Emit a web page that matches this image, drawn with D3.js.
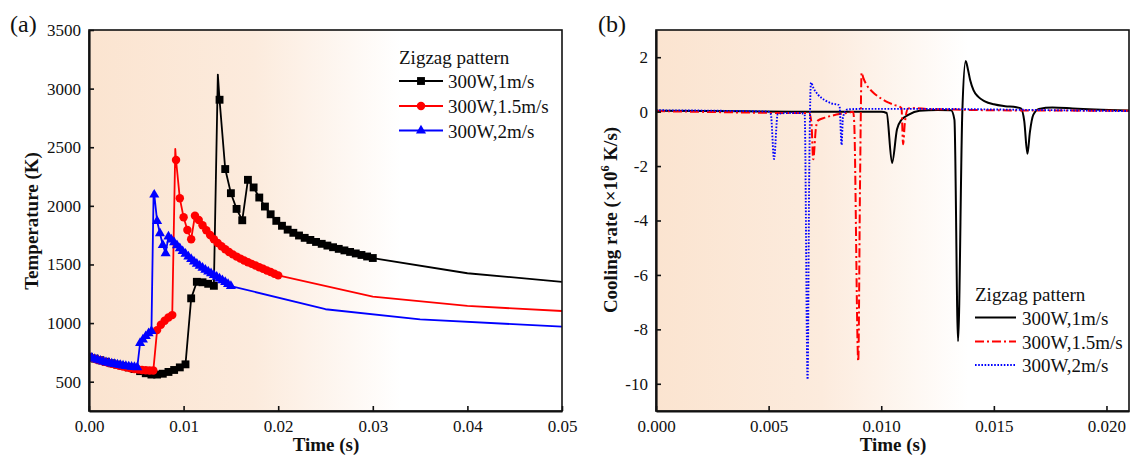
<!DOCTYPE html>
<html>
<head>
<meta charset="utf-8">
<script src="https://cdn.jsdelivr.net/npm/d3@7"></script>
<style>
  html, body { margin: 0; padding: 0; background: #fff; }
  svg { display: block; font-family: "Liberation Serif", "Times New Roman", serif; }
</style>
</head>
<body>
<svg id="chart" width="1132" height="461"></svg>
<script>
// ---------- (a) Temperature history, zigzag pattern ----------
// 300 W, 1 m/s  (sampled every 0.6 ms)
const blackTime = [0, 0.0006, 0.0012, 0.0018, 0.0024, 0.003, 0.0036, 0.0042, 0.0048, 0.0054,
  0.006, 0.0066, 0.0072, 0.0078, 0.0084, 0.009, 0.0096, 0.0102, 0.0108, 0.0114,
  0.012, 0.0126, 0.0132, 0.0138, 0.0144, 0.015, 0.0156, 0.0162, 0.0168, 0.0174,
  0.018, 0.0186, 0.0192, 0.0198, 0.0204, 0.021, 0.0216, 0.0222, 0.0228, 0.0234,
  0.024, 0.0246, 0.0252, 0.0258, 0.0264, 0.027, 0.0276, 0.0282, 0.0288, 0.0294, 0.03];
const blackTemp = [712, 697, 683, 670, 657, 645, 634, 622, 608, 590,
  572, 561, 561, 568, 583, 600, 622, 648, 1211, 1352,
  1348, 1335, 1318, 2905, 2314, 2108, 1974, 1877, 2222, 2157,
  2071, 1994, 1928, 1872, 1830, 1797, 1770, 1747, 1727, 1709,
  1692, 1676, 1661, 1647, 1633, 1620, 1607, 1594, 1581, 1568, 1555];

// 300 W, 1.5 m/s  (sampled every 0.4 ms)
const redTime = [0, 0.0004, 0.0008, 0.0012, 0.0016, 0.002, 0.0024, 0.0028, 0.0032, 0.0036,
  0.004, 0.0044, 0.0048, 0.0052, 0.0056, 0.006, 0.0064, 0.0068, 0.0072, 0.0076,
  0.008, 0.0084, 0.0088, 0.0092, 0.0096, 0.01, 0.0104, 0.0108, 0.0112, 0.0116,
  0.012, 0.0124, 0.0128, 0.0132, 0.0136, 0.014, 0.0144, 0.0148, 0.0152, 0.0156,
  0.016, 0.0164, 0.0168, 0.0172, 0.0176, 0.018, 0.0184, 0.0188, 0.0192, 0.0196, 0.02];
const redTemp = [712, 701, 690, 680, 670, 661, 652, 644, 636, 629,
  622, 615, 609, 604, 600, 597, 595, 596, 940, 985,
  1020, 1048, 1068, 2391, 2064, 1902, 1794, 1715, 1916, 1880,
  1835, 1792, 1752, 1716, 1684, 1656, 1630, 1607, 1586, 1567,
  1550, 1534, 1519, 1505, 1491, 1477, 1463, 1449, 1435, 1421, 1407];

// 300 W, 2 m/s  (sampled every 0.3 ms)
const blueTime = [0, 0.0003, 0.0006, 0.0009, 0.0012, 0.0015, 0.0018, 0.0021, 0.0024, 0.0027,
  0.003, 0.0033, 0.0036, 0.0039, 0.0042, 0.0045, 0.0048, 0.0051, 0.0054, 0.0057,
  0.006, 0.0063, 0.0066, 0.0069, 0.0072, 0.0075, 0.0078, 0.0081, 0.0084, 0.0087,
  0.009, 0.0093, 0.0096, 0.0099, 0.0102, 0.0105, 0.0108, 0.0111, 0.0114, 0.0117,
  0.012, 0.0123, 0.0126, 0.0129, 0.0132, 0.0135, 0.0138, 0.0141, 0.0144, 0.0147, 0.015];
const blueTemp = [712, 703, 694, 686, 679, 672, 666, 660, 655, 650,
  645, 641, 637, 633, 630, 627, 624, 622, 830, 860,
  888, 912, 932, 2095, 1871, 1766, 1666, 1595, 1737, 1712,
  1688, 1663, 1638, 1613, 1590, 1567, 1545, 1525, 1506, 1488,
  1471, 1455, 1439, 1424, 1409, 1394, 1379, 1364, 1349, 1333, 1316];

// melt-pool peak (line only, no symbol) for black, red, blue
const peakTime = [0.01362, 0.00912, 0.00683];
const peakTemp = [3120, 2485, 2122];

// long cooling tails (line only)
const blackTailTime = [0.04, 0.05];
const blackTailTemp = [1425, 1352];
const redTailTime = [0.03, 0.04, 0.05];
const redTailTemp = [1225, 1146, 1103];
const blueTailTime = [0.025, 0.035, 0.05];
const blueTailTemp = [1118, 1032, 969];

const tempTicks = [500, 1000, 1500, 2000, 2500, 3000, 3500];
const timeTicksA = [0, 0.01, 0.02, 0.03, 0.04, 0.05];

// ---------- (b) Cooling rate (x10^6 K/s) ----------
const coolBlackTime = [0, 0.002, 0.004, 0.006, 0.008, 0.01, 0.01024, 0.01048, 0.0107, 0.0109,
  0.0112, 0.0117, 0.0125, 0.0131, 0.01325, 0.01341, 0.0136, 0.01375, 0.01385, 0.01395,
  0.0141, 0.0143, 0.0146, 0.015, 0.0155, 0.016, 0.0162, 0.01635, 0.01649, 0.0166,
  0.01675, 0.017, 0.0176, 0.0185, 0.0195, 0.021];
const coolBlackRate = [0.03, 0.02, 0.01, 0, 0, 0, -0.05, -1.89, -0.65, -0.3,
  -0.12, 0.03, 0.06, 0.05, -0.3, -8.44, 0, 1.86, 1.55, 1.15,
  0.78, 0.55, 0.38, 0.27, 0.2, 0.16, 0.12, -0.35, -1.55, -0.75,
  -0.12, 0.1, 0.15, 0.12, 0.08, 0.04];

const coolRedTime = [0, 0.003, 0.006, 0.0068, 0.0069, 0.00698, 0.0071, 0.0072, 0.0075, 0.0078,
  0.0082, 0.0086, 0.00875, 0.0088, 0.00898, 0.00906, 0.00913, 0.0092, 0.00935, 0.0095,
  0.0097, 0.01, 0.0103, 0.0106, 0.0108, 0.0109, 0.01097, 0.01105, 0.0112, 0.0115,
  0.012, 0.013, 0.015, 0.018, 0.021];
const coolRedRate = [0.02, -0.02, -0.05, -0.05, -0.4, -1.75, -0.6, -0.32, -0.22, -0.15,
  -0.08, -0.03, 0, -0.4, -9.17, -2.5, 1.43, 1.25, 0.98, 0.82,
  0.66, 0.48, 0.34, 0.24, 0.19, 0.12, -1.2, -0.4, 0.12, 0.13,
  0.1, 0.08, 0.05, 0.04, 0.03];

const coolBlueTime = [0, 0.003, 0.005, 0.0051, 0.00524, 0.0054, 0.0056, 0.006, 0.0064, 0.0066,
  0.00673, 0.0068, 0.00688, 0.007, 0.0072, 0.0075, 0.0078, 0.0081, 0.00815, 0.00824,
  0.0083, 0.0085, 0.009, 0.01, 0.012, 0.015, 0.018, 0.021];
const coolBlueRate = [0.05, 0.03, 0, -0.1, -1.74, -0.1, -0.06, -0.05, -0.05, -0.1,
  -9.84, -2.5, 1.07, 0.85, 0.62, 0.42, 0.3, 0.25, 0.2, -1.22,
  -0.2, 0.08, 0.1, 0.1, 0.1, 0.08, 0.05, 0.02];

const rateTicks = [-10, -8, -6, -4, -2, 0, 2];
const timeTicksB = [0, 0.005, 0.01, 0.015, 0.02];

const legendLabels = ["300W,1m/s", "300W,1.5m/s", "300W,2m/s"];
const legendTitle = "Zigzag pattern";

// ---------- drawing ----------
const svg = d3.select("#chart");
const defs = svg.append("defs");
const zip = (t, v) => t.map((d, i) => [d, v[i]]);
const colors = ["#000000", "#ff0000", "#0000ff"];
const FONT = '"Liberation Serif", "Times New Roman", serif';

function bgGradient(id) {
  const g = defs.append("linearGradient").attr("id", id)
    .attr("x1", 0).attr("x2", 1).attr("y1", 0).attr("y2", 0);
  g.append("stop").attr("offset", "0%").attr("stop-color", "#fbe4d0");
  g.append("stop").attr("offset", "35%").attr("stop-color", "#fcebdd");
  g.append("stop").attr("offset", "66%").attr("stop-color", "#ffffff");
}
bgGradient("bgA");
bgGradient("bgB");

function panel(x, y, id) {
  const [x0, x1] = x.range(), [y0, y1] = y.range();
  const g = svg.append("g");
  g.append("rect").attr("x", x0).attr("y", y1).attr("width", x1 - x0).attr("height", y0 - y1)
    .attr("fill", `url(#bg${id})`);
  defs.append("clipPath").attr("id", "clip" + id)
    .append("rect").attr("x", x0).attr("y", y1).attr("width", x1 - x0).attr("height", y0 - y1);
  return g;
}

function frameAndAxes(g, x, y, xTicks, xFmt, yTicks, yFmt) {
  const [x0, x1] = x.range(), [y0, y1] = y.range();
  g.append("rect").attr("x", x0).attr("y", y1).attr("width", x1 - x0).attr("height", y0 - y1)
    .attr("fill", "none").attr("stroke", "#111").attr("stroke-width", 1.6);
  const ax = g.append("g").attr("transform", `translate(0,${y0})`)
    .call(d3.axisBottom(x).tickValues(xTicks).tickFormat(xFmt)
      .tickSizeInner(-5).tickSizeOuter(0).tickPadding(9));
  const ay = g.append("g").attr("transform", `translate(${x0},0)`)
    .call(d3.axisLeft(y).tickValues(yTicks).tickFormat(yFmt)
      .tickSizeInner(-5).tickSizeOuter(0).tickPadding(8));
  [ax, ay].forEach(a => {
    a.attr("font-family", FONT).attr("font-size", 17);
    a.select(".domain").attr("stroke", "#111").attr("stroke-width", 2.2);
    a.selectAll(".tick line").attr("stroke", "#111").attr("stroke-width", 1.6);
    a.selectAll(".tick text").attr("fill", "#111");
  });
}

// ----- panel (a) -----
const xA = d3.scaleLinear().domain([0, 0.05]).range([89, 562]);
const yA = d3.scaleLinear().domain([250, 3500]).range([411, 30]);
const gA = panel(xA, yA, "A");

const seriesA = [
  { pts: zip(blackTime, blackTemp), peak: [peakTime[0], peakTemp[0]], tail: zip(blackTailTime, blackTailTemp), sym: d3.symbolSquare, size: 62 },
  { pts: zip(redTime, redTemp), peak: [peakTime[1], peakTemp[1]], tail: zip(redTailTime, redTailTemp), sym: d3.symbolCircle, size: 56 },
  { pts: zip(blueTime, blueTemp), peak: [peakTime[2], peakTemp[2]], tail: zip(blueTailTime, blueTailTemp), sym: d3.symbolTriangle, size: 44 }
];
const lineA = d3.line().x(d => xA(d[0])).y(d => yA(d[1]));
const plotA = gA.append("g").attr("clip-path", "url(#clipA)");
seriesA.forEach((s, i) => {
  const path = s.pts.concat([s.peak], s.tail).sort((a, b) => a[0] - b[0]);
  plotA.append("path").attr("d", lineA(path)).attr("fill", "none")
    .attr("stroke", colors[i]).attr("stroke-width", 1.8).attr("stroke-linejoin", "round");
  plotA.append("g").selectAll("path").data(s.pts).join("path")
    .attr("transform", d => `translate(${xA(d[0])},${yA(d[1])})`)
    .attr("d", d3.symbol(s.sym, s.size)).attr("fill", colors[i]);
});
frameAndAxes(gA, xA, yA, timeTicksA, d3.format(".2f"), tempTicks, d => String(d));

// legend (a)
const legA = gA.append("g").attr("font-family", FONT).attr("font-size", 19).attr("fill", "#111");
legA.append("text").attr("x", 399).attr("y", 64).text(legendTitle);
[81, 106, 130.5].forEach((ly, i) => {
  legA.append("line").attr("x1", 399).attr("x2", 443).attr("y1", ly).attr("y2", ly)
    .attr("stroke", colors[i]).attr("stroke-width", 1.8);
  legA.append("path").attr("transform", `translate(421,${ly})`)
    .attr("d", d3.symbol(seriesA[i].sym, seriesA[i].size)()).attr("fill", colors[i]);
  legA.append("text").attr("x", 448).attr("y", ly + 7).text(legendLabels[i]);
});

// titles (a)
svg.append("text").attr("x", 10).attr("y", 32).attr("font-family", FONT).attr("font-size", 24)
  .attr("fill", "#111").text("(a)");
svg.append("text").attr("transform", "translate(38,221) rotate(-90)").attr("text-anchor", "middle")
  .attr("font-family", FONT).attr("font-size", 19).attr("font-weight", "bold").attr("fill", "#111")
  .text("Temperature (K)");
svg.append("text").attr("x", 326).attr("y", 451).attr("text-anchor", "middle")
  .attr("font-family", FONT).attr("font-size", 19).attr("font-weight", "bold").attr("fill", "#111")
  .text("Time (s)");

// ----- panel (b) -----
const xB = d3.scaleLinear().domain([0, 0.021]).range([656, 1129]);
const yB = d3.scaleLinear().domain([-11, 3]).range([411, 30]);
const gB = panel(xB, yB, "B");

const styleB = [
  { dash: null, width: 2 },
  { dash: "9,3,2,3", width: 2 },
  { dash: "1.6,1.6", width: 1.9 }
];
const seriesB = [zip(coolBlackTime, coolBlackRate), zip(coolRedTime, coolRedRate), zip(coolBlueTime, coolBlueRate)];
const lineB = d3.line().curve(d3.curveMonotoneX).x(d => xB(d[0])).y(d => yB(d[1]));
const plotB = gB.append("g").attr("clip-path", "url(#clipB)");
seriesB.forEach((pts, i) => {
  plotB.append("path").attr("d", lineB(pts)).attr("fill", "none")
    .attr("stroke", colors[i]).attr("stroke-width", styleB[i].width)
    .attr("stroke-dasharray", styleB[i].dash).attr("stroke-linejoin", "round");
});
frameAndAxes(gB, xB, yB, timeTicksB, d3.format(".3f"), rateTicks, d => String(d));

// legend (b)
const legB = gB.append("g").attr("font-family", FONT).attr("font-size", 19).attr("fill", "#111");
legB.append("text").attr("x", 975).attr("y", 301).text(legendTitle);
[317.5, 341.5, 365].forEach((ly, i) => {
  legB.append("line").attr("x1", 975).attr("x2", 1016).attr("y1", ly).attr("y2", ly)
    .attr("stroke", colors[i]).attr("stroke-width", styleB[i].width)
    .attr("stroke-dasharray", styleB[i].dash);
  legB.append("text").attr("x", 1022).attr("y", ly + 7).text(legendLabels[i]);
});

// titles (b)
svg.append("text").attr("x", 598).attr("y", 32).attr("font-family", FONT).attr("font-size", 24)
  .attr("fill", "#111").text("(b)");
const yt = svg.append("text").attr("transform", "translate(617,220) rotate(-90)").attr("text-anchor", "middle")
  .attr("font-family", FONT).attr("font-size", 19).attr("font-weight", "bold").attr("fill", "#111");
yt.append("tspan").text("Cooling rate (×10");
yt.append("tspan").attr("font-size", 12).attr("dy", -8).text("6");
yt.append("tspan").attr("dy", 8).text(" K/s)");
svg.append("text").attr("x", 893).attr("y", 451).attr("text-anchor", "middle")
  .attr("font-family", FONT).attr("font-size", 19).attr("font-weight", "bold").attr("fill", "#111")
  .text("Time (s)");
</script>
</body>
</html>
